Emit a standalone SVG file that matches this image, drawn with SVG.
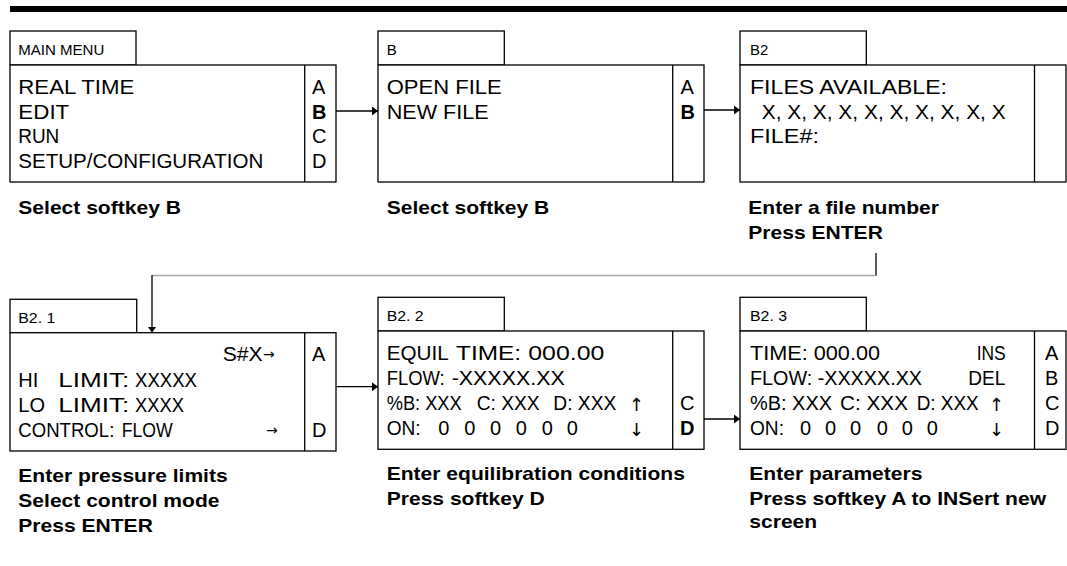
<svg xmlns="http://www.w3.org/2000/svg" width="1067" height="566" viewBox="0 0 1067 566">
<style>
.box{fill:#fff;stroke:#000;stroke-width:1.3}
.div{stroke:#000;stroke-width:1.3}
text{font-family:"Liberation Sans",Arial,sans-serif;fill:#000}
.s{font-size:20px}
.l{font-size:15px}
.b{font-weight:bold}
.cap{font-size:18px;font-weight:bold}
.ar{font-family:"DejaVu Sans",sans-serif;font-size:14px}
.ud{font-family:"DejaVu Sans",sans-serif;font-size:18px}
.conn{stroke:#000;stroke-width:1.3;fill:none}
.gray{stroke:#a8a8a8;stroke-width:1.6;fill:none}
</style>
<defs>
<marker id="ah" markerUnits="userSpaceOnUse" markerWidth="8" markerHeight="10" refX="6" refY="4.5" orient="auto">
<path d="M0,0 L6,4.5 L0,9 Z" fill="#000"/>
</marker>
</defs>
<rect x="10" y="6" width="1057" height="6" fill="#000"/>

<g id="connectors">
<line class="conn" x1="336" y1="111" x2="378" y2="111" marker-end="url(#ah)"/>
<line class="conn" x1="704" y1="110" x2="740" y2="110" marker-end="url(#ah)"/>
<line class="conn" x1="876" y1="253" x2="876" y2="276"/>
<line class="gray" x1="876" y1="275.5" x2="152" y2="275.5"/>
<line class="conn" x1="152" y1="275" x2="152" y2="332.5" marker-end="url(#ah)"/>
<line class="conn" x1="336" y1="386.7" x2="378" y2="386.7" marker-end="url(#ah)"/>
<line class="conn" x1="704" y1="419" x2="740" y2="419" marker-end="url(#ah)"/>
</g>

<g id="main-menu">
<rect class="box" x="10" y="31" width="126" height="34"/>
<rect class="box" x="10" y="65" width="326" height="117"/>
<line class="div" x1="304.7" y1="65" x2="304.7" y2="182"/>
<text class="l" x="18.3" y="55" textLength="86" lengthAdjust="spacingAndGlyphs">MAIN MENU</text>
<text class="s" x="18.3" y="94" textLength="116" lengthAdjust="spacingAndGlyphs">REAL TIME</text>
<text class="s" x="18.3" y="119" textLength="51" lengthAdjust="spacingAndGlyphs">EDIT</text>
<text class="s" x="18.3" y="143" textLength="41" lengthAdjust="spacingAndGlyphs">RUN</text>
<text class="s" x="18.3" y="168" textLength="245" lengthAdjust="spacingAndGlyphs">SETUP/CONFIGURATION</text>
<text class="s" x="312" y="94">A</text>
<text class="s b" x="312" y="119">B</text>
<text class="s" x="312" y="143">C</text>
<text class="s" x="312" y="168">D</text>
<text class="cap" transform="translate(18.3,214) scale(1.17,1)">Select softkey B</text>
</g>

<g id="screen-b">
<rect class="box" x="378" y="31" width="126.3" height="34"/>
<rect class="box" x="378" y="65" width="326" height="117"/>
<line class="div" x1="672.7" y1="65" x2="672.7" y2="182"/>
<text class="l" x="386.7" y="55">B</text>
<text class="s" x="386.7" y="94" textLength="115" lengthAdjust="spacingAndGlyphs">OPEN FILE</text>
<text class="s" x="386.7" y="119" textLength="102" lengthAdjust="spacingAndGlyphs">NEW FILE</text>
<text class="s" x="680.5" y="94">A</text>
<text class="s b" x="680.5" y="119">B</text>
<text class="cap" transform="translate(386.7,214) scale(1.17,1)">Select softkey B</text>
</g>

<g id="screen-b2">
<rect class="box" x="740" y="31" width="126.3" height="34"/>
<rect class="box" x="740" y="65" width="326" height="117"/>
<line class="div" x1="1034.5" y1="65" x2="1034.5" y2="182"/>
<text class="l" x="750" y="55">B2</text>
<text class="s" x="750" y="94" textLength="197" lengthAdjust="spacingAndGlyphs">FILES AVAILABLE:</text>
<text class="s" x="761.7" y="119" textLength="244" lengthAdjust="spacingAndGlyphs">X, X, X, X, X, X, X, X, X, X</text>
<text class="s" x="750" y="143" textLength="69" lengthAdjust="spacingAndGlyphs">FILE#:</text>
<text class="cap" transform="translate(748.3,214) scale(1.17,1)">Enter a file number</text>
<text class="cap" transform="translate(748.3,239) scale(1.17,1)">Press ENTER</text>
</g>

<g id="screen-b2-1">
<rect class="box" x="10" y="299.3" width="126.7" height="33.4"/>
<rect class="box" x="10" y="332.7" width="326" height="118.3"/>
<line class="div" x1="304.7" y1="332.7" x2="304.7" y2="451"/>
<text class="l" x="18.3" y="322.7" textLength="37" lengthAdjust="spacingAndGlyphs">B2. 1</text>
<text class="s" x="222.7" y="360.7" textLength="40" lengthAdjust="spacingAndGlyphs">S#X</text>
<text class="ar" x="263" y="359">→</text>
<text class="s" x="18.3" y="386.7">HI</text>
<text class="s" x="58.3" y="386.7" textLength="71" lengthAdjust="spacingAndGlyphs">LIMIT:</text>
<text class="s" x="135" y="386.7" textLength="62" lengthAdjust="spacingAndGlyphs">XXXXX</text>
<text class="s" x="18.3" y="411.7">LO</text>
<text class="s" x="58.3" y="411.7" textLength="71" lengthAdjust="spacingAndGlyphs">LIMIT:</text>
<text class="s" x="135" y="411.7" textLength="49" lengthAdjust="spacingAndGlyphs">XXXX</text>
<text class="s" x="18.3" y="436.7" textLength="96" lengthAdjust="spacingAndGlyphs">CONTROL:</text>
<text class="s" x="121.7" y="436.7" textLength="51" lengthAdjust="spacingAndGlyphs">FLOW</text>
<text class="ar" x="266" y="435">→</text>
<text class="s" x="312" y="360.7">A</text>
<text class="s" x="312" y="436.7">D</text>
<text class="cap" transform="translate(18.3,481.7) scale(1.17,1)">Enter pressure limits</text>
<text class="cap" transform="translate(18.3,506.7) scale(1.17,1)">Select control mode</text>
<text class="cap" transform="translate(18.3,531.7) scale(1.17,1)">Press ENTER</text>
</g>

<g id="screen-b2-2">
<rect class="box" x="378" y="297.3" width="126.3" height="33.7"/>
<rect class="box" x="378" y="331" width="326" height="118.3"/>
<line class="div" x1="672.7" y1="331" x2="672.7" y2="449.3"/>
<text class="l" x="386.7" y="321" textLength="37" lengthAdjust="spacingAndGlyphs">B2. 2</text>
<text class="s" x="386.7" y="360" textLength="62" lengthAdjust="spacingAndGlyphs">EQUIL</text>
<text class="s" x="456" y="360" textLength="65" lengthAdjust="spacingAndGlyphs">TIME:</text>
<text class="s" x="528.3" y="360" textLength="76" lengthAdjust="spacingAndGlyphs">000.00</text>
<text class="s" x="386.7" y="385" textLength="58" lengthAdjust="spacingAndGlyphs">FLOW:</text>
<text class="s" x="451.7" y="385" textLength="113" lengthAdjust="spacingAndGlyphs">-XXXXX.XX</text>
<text class="s" x="386.7" y="410" textLength="75" lengthAdjust="spacingAndGlyphs">%B: XXX</text>
<text class="s" x="476.7" y="410" textLength="63" lengthAdjust="spacingAndGlyphs">C: XXX</text>
<text class="s" x="553.3" y="410" textLength="63" lengthAdjust="spacingAndGlyphs">D: XXX</text>
<text class="ud" x="629" y="411">↑</text>
<text class="s" x="386.7" y="435" textLength="34" lengthAdjust="spacingAndGlyphs">ON:</text>
<text class="s" x="438.3" y="435">0</text>
<text class="s" x="464.3" y="435">0</text>
<text class="s" x="490" y="435">0</text>
<text class="s" x="515.7" y="435">0</text>
<text class="s" x="541.7" y="435">0</text>
<text class="s" x="566.7" y="435">0</text>
<text class="ud" x="629" y="436">↓</text>
<text class="s" x="680" y="410">C</text>
<text class="s b" x="680" y="435">D</text>
<text class="cap" transform="translate(386.7,480) scale(1.17,1)">Enter equilibration conditions</text>
<text class="cap" transform="translate(386.7,505) scale(1.17,1)">Press softkey D</text>
</g>

<g id="screen-b2-3">
<rect class="box" x="740" y="297.3" width="126.3" height="33.7"/>
<rect class="box" x="740" y="331" width="326" height="118.3"/>
<line class="div" x1="1034.5" y1="331" x2="1034.5" y2="449.3"/>
<text class="l" x="750" y="321" textLength="37" lengthAdjust="spacingAndGlyphs">B2. 3</text>
<text class="s" x="750" y="360" textLength="130" lengthAdjust="spacingAndGlyphs">TIME: 000.00</text>
<text class="s" x="976.7" y="360" textLength="29" lengthAdjust="spacingAndGlyphs">INS</text>
<text class="s" x="750" y="385" textLength="172" lengthAdjust="spacingAndGlyphs">FLOW: -XXXXX.XX</text>
<text class="s" x="968.3" y="385" textLength="37" lengthAdjust="spacingAndGlyphs">DEL</text>
<text class="s" x="750" y="410" textLength="82" lengthAdjust="spacingAndGlyphs">%B: XXX</text>
<text class="s" x="840" y="410" textLength="68" lengthAdjust="spacingAndGlyphs">C: XXX</text>
<text class="s" x="916.7" y="410" textLength="62" lengthAdjust="spacingAndGlyphs">D: XXX</text>
<text class="ud" x="989" y="411">↑</text>
<text class="s" x="750" y="435" textLength="34" lengthAdjust="spacingAndGlyphs">ON:</text>
<text class="s" x="800" y="435">0</text>
<text class="s" x="825" y="435">0</text>
<text class="s" x="850" y="435">0</text>
<text class="s" x="876.7" y="435">0</text>
<text class="s" x="901.7" y="435">0</text>
<text class="s" x="926.7" y="435">0</text>
<text class="ud" x="989" y="436">↓</text>
<text class="s" x="1045" y="360">A</text>
<text class="s" x="1045" y="385">B</text>
<text class="s" x="1045" y="410">C</text>
<text class="s" x="1045" y="435">D</text>
<text class="cap" transform="translate(749.3,480) scale(1.17,1)">Enter parameters</text>
<text class="cap" transform="translate(749.3,505) scale(1.17,1)">Press softkey A to INSert new</text>
<text class="cap" transform="translate(749.3,528.3) scale(1.17,1)">screen</text>
</g>
</svg>
